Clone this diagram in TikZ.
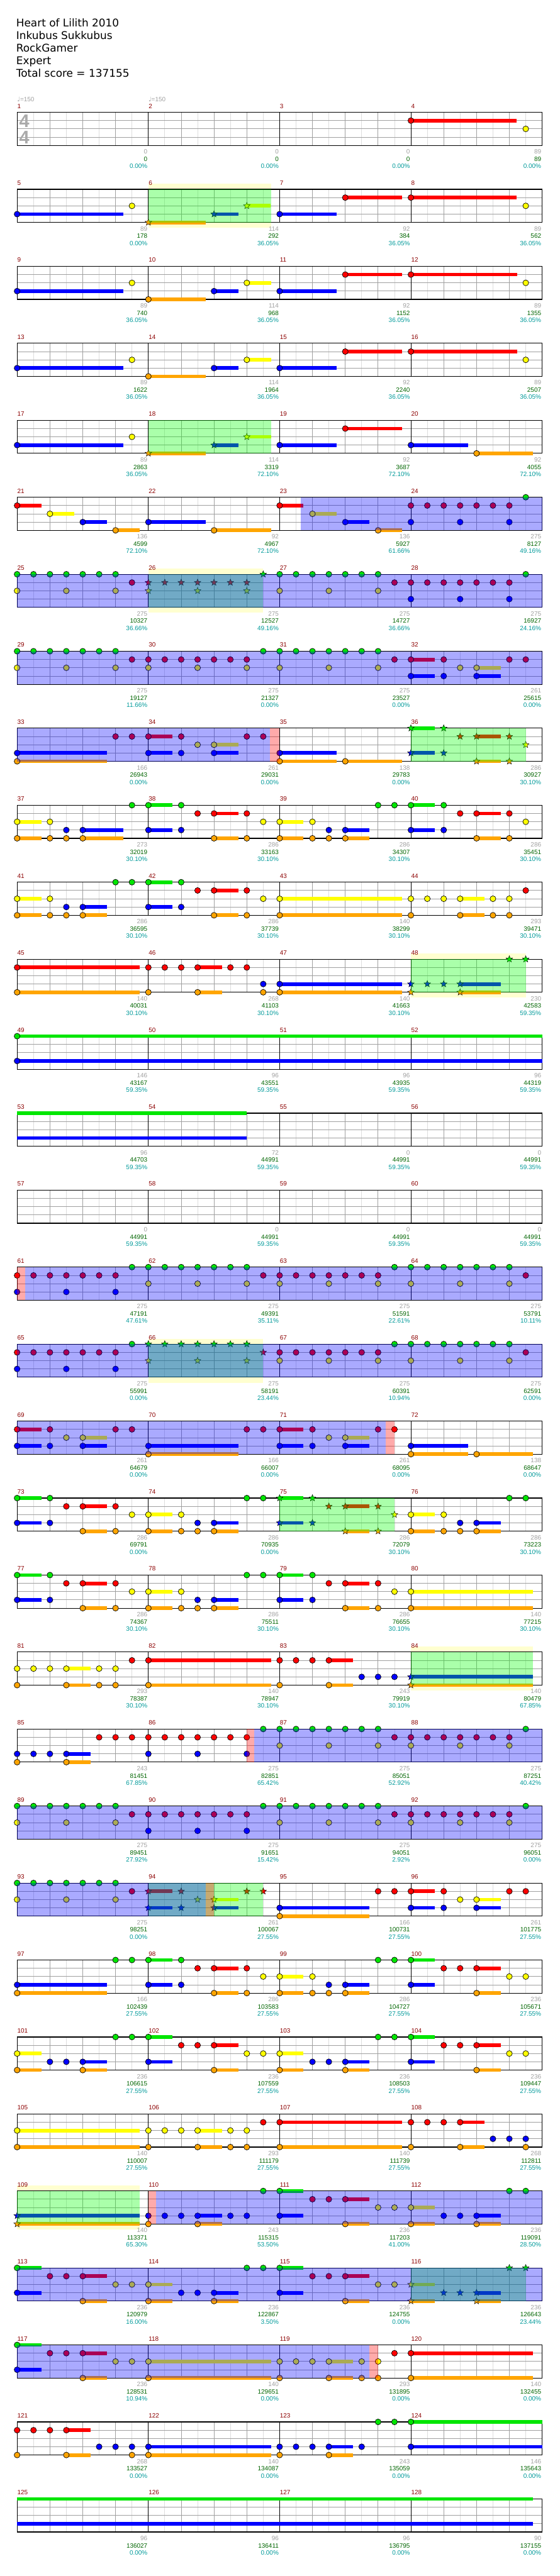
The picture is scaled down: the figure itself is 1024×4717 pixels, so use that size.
\documentclass[tikz,border=0pt]{standalone}
\usepackage{fontspec}
\setmainfont{DejaVu Sans}
\newfontfamily\numfont{Liberation Sans}
\newfontfamily\sigfont{Liberation Sans}
\usetikzlibrary{shapes.geometric}
% 五条轨道的颜色
\definecolor{lane0}{RGB}{0,230,0}
\definecolor{lane1}{RGB}{255,0,0}
\definecolor{lane2}{RGB}{255,255,0}
\definecolor{lane3}{RGB}{0,0,255}
\definecolor{lane4}{RGB}{255,165,0}
\definecolor{gridlight}{RGB}{221,221,221}
\definecolor{gridmid}{RGB}{160,160,160}
\definecolor{barnum}{RGB}{139,0,0}
\definecolor{basecol}{RGB}{160,160,160}
\definecolor{totalcol}{RGB}{0,100,0}
\definecolor{pctcol}{RGB}{0,153,153}
\definecolor{bandcol}{RGB}{255,255,208}
\definecolor{sigcol}{RGB}{170,170,170}
% 坐标: 行, 八分音符位置, 轨道
\newcommand{\xe}[1]{31.3+30.03*(#1)}
\newcommand{\yl}[2]{205.7+140.97*(#1)+15.15*(#2)}
\tikzset{
  headline/.style={anchor=base west, inner sep=0, font=\fontsize{14.6}{17}\selectfont},
  barno/.style={anchor=base west, inner sep=0, text=barnum, font=\numfont\fontsize{8.6}{10}\selectfont},
  scoretext/.style={anchor=base east, inner sep=0, font=\numfont\fontsize{8.6}{10}\selectfont},
  eighthline/.style={draw=gridlight, line width=0.75pt},
  beatline/.style={draw=gridmid, line width=0.75pt},
  barline/.style={draw=black, line width=0.75pt},
  staffframe/.style={draw=black, line width=1pt},
  notehead/.style={draw=black, line width=0.6pt},
  sustain/.style={line width=5pt},
  spstar/.style={star, star points=5, star point ratio=2.3, draw=black, line width=0.4pt, inner sep=0, minimum size=9.5pt},
  spzone/.style={fill=green, fill opacity=0.333},
  odzone/.style={fill=blue, fill opacity=0.333},
  actzone/.style={fill=red, fill opacity=0.333},
  spband/.style={fill=bandcol}
}
% 音符, 星音符, 延音
\newcommand{\nt}[3]{\foreach \e in {#3}{\draw[notehead, fill=lane#2] ({\xe{\e}},{\yl{#1}{#2}}) circle[radius=4pt];}}
\newcommand{\spn}[3]{\foreach \e in {#3}{\node[spstar, fill=lane#2] at ({\xe{\e}},{\yl{#1}{#2}}) {};}}
\newcommand{\sus}[4]{\draw[sustain, draw=lane#2] ({\xe{#3}},{\yl{#1}{#2}}) -- ({\xe{#4}},{\yl{#1}{#2}});}
% 区域: 行, 起, 止
\newcommand{\band}[3]{\fill[spband] ({\xe{#2}},{\yl{#1}{0}-10}) rectangle ({\xe{#3}},{\yl{#1}{4}+10});}
\newcommand{\spz}[3]{\fill[spzone] ({\xe{#2}},{\yl{#1}{0}}) rectangle ({\xe{#3}},{\yl{#1}{4}});}
\newcommand{\odz}[3]{\fill[odzone] ({\xe{#2}},{\yl{#1}{0}}) rectangle ({\xe{#3}},{\yl{#1}{4}});}
\newcommand{\actz}[3]{\fill[actzone] ({\xe{#2}},{\yl{#1}{0}}) rectangle ({\xe{#3}},{\yl{#1}{4}});}

\begin{document}
\begin{tikzpicture}[x=0.75pt, y=-0.75pt]
	\useasboundingbox (0,0) rectangle (1024,4717);
	
	% 标题
	\foreach \t [count=\i] in {Heart of Lilith 2010, Inkubus Sukkubus, RockGamer, Expert, Total score = 137155}
		\node[headline] at (29.5,26+23*\i) {\t};
	
	% 星力提示带
	\band{1}{8}{15.47} \band{6}{8}{15} \band{11}{24}{31} \band{16}{8}{15} \band{20}{24}{31.45} \band{27}{0}{7.48}
	
	% 谱表
	\foreach \rw in {0,...,31} {
		\pgfmathsetmacro\yt{205.7+140.97*\rw}
		\fill[white] (31.3,\yt) rectangle (992.3,\yt+60.6);
		\foreach \e in {1,3,...,31} \draw[eighthline] ({\xe{\e}},\yt) -- ++(0,60.6);
		\foreach \e in {2,4,6,10,12,14,18,20,22,26,28,30} \draw[beatline] ({\xe{\e}},\yt) -- ++(0,60.6);
		\foreach \l in {1,2,3} \draw[beatline] (31.3,\yt+15.15*\l) -- (992.3,\yt+15.15*\l);
		\foreach \e in {8,16,24} \draw[barline] ({\xe{\e}},\yt) -- ++(0,60.6);
		\draw[staffframe] (31.3,\yt) rectangle (992.3,\yt+60.6);
		\foreach \cl in {0,...,3} {
			\pgfmathtruncatemacro\mn{4*\rw+\cl+1}
			\node[barno] at ({\xe{8*\cl}+0.3},\yt-7.5) {\mn};
		}
	}
	
	% 拍号与速度
	\node[anchor=base, inner sep=0, text=sigcol, font=\sigfont\bfseries\fontsize{25}{25}\selectfont] at (44.5,233) {4};
	\node[anchor=base, inner sep=0, text=sigcol, font=\sigfont\bfseries\fontsize{25}{25}\selectfont] at (44.5,263) {4};
	\foreach \e in {0,8}
		\node[anchor=base west, inner sep=0, text=basecol, font=\numfont\fontsize{8.6}{10}\selectfont] at ({\xe{\e}},185.7) {{\fontspec{DejaVu Sans}♩}=150};
	
	% 第1-8小节
	\sus{0}{1}{24}{30.46} \nt{0}{1}{24} \nt{0}{2}{31}
	\sus{1}{3}{0}{6.48} \nt{1}{3}{0} \nt{1}{2}{7}
	\sus{1}{4}{8}{11.48} \spn{1}{4}{8}
	\sus{1}{3}{12}{13.48} \spn{1}{3}{12}
	\sus{1}{2}{14}{15.46} \spn{1}{2}{14}
	\sus{1}{3}{16}{19.47} \nt{1}{3}{16}
	\sus{1}{1}{20}{23.46} \nt{1}{1}{20}
	\sus{1}{1}{24}{30.46} \nt{1}{1}{24} \nt{1}{2}{31}
	
	% 第9-16小节
	\foreach \rr in {2,3} {
		\sus{\rr}{3}{0}{6.48} \nt{\rr}{3}{0} \nt{\rr}{2}{7}
		\sus{\rr}{4}{8}{11.49} \nt{\rr}{4}{8}
		\sus{\rr}{3}{12}{13.49} \nt{\rr}{3}{12}
		\sus{\rr}{2}{14}{15.47} \nt{\rr}{2}{14}
		\sus{\rr}{3}{16}{19.47} \nt{\rr}{3}{16}
		\sus{\rr}{1}{20}{23.47} \nt{\rr}{1}{20}
		\sus{\rr}{1}{24}{30.48} \nt{\rr}{1}{24} \nt{\rr}{2}{31}
	}
	
	% 第17-20小节
	\sus{4}{3}{0}{6.48} \nt{4}{3}{0} \nt{4}{2}{7}
	\sus{4}{4}{8}{11.49} \spn{4}{4}{8}
	\sus{4}{3}{12}{13.49} \spn{4}{3}{12}
	\sus{4}{2}{14}{15.47} \spn{4}{2}{14}
	\sus{4}{3}{16}{19.47} \nt{4}{3}{16}
	\sus{4}{1}{20}{23.47} \nt{4}{1}{20}
	\sus{4}{3}{24}{27.47} \nt{4}{3}{24}
	\sus{4}{4}{28}{31.45} \nt{4}{4}{28}
	
	% 第21-24小节
	\sus{5}{1}{0}{1.48} \nt{5}{1}{0}
	\sus{5}{2}{2}{3.48} \nt{5}{2}{2}
	\sus{5}{3}{4}{5.48} \nt{5}{3}{4}
	\sus{5}{4}{6}{7.48} \nt{5}{4}{6}
	\sus{5}{3}{8}{11.49} \nt{5}{3}{8}
	\sus{5}{4}{12}{15.47} \nt{5}{4}{12}
	\sus{5}{1}{16}{17.45} \nt{5}{1}{16}
	\sus{5}{2}{18}{19.47} \nt{5}{2}{18}
	\sus{5}{3}{20}{21.47} \nt{5}{3}{20}
	\sus{5}{4}{22}{23.47} \nt{5}{4}{22}
	\nt{5}{1}{24,...,30} \nt{5}{3}{24,27,30} \nt{5}{0}{31}
	
	% 第25-28小节
	\nt{6}{0}{0,...,6} \nt{6}{1}{7} \nt{6}{2}{0,3,6}
	\spn{6}{1}{8,...,14} \spn{6}{2}{8,11,14} \spn{6}{0}{15}
	\nt{6}{0}{16,...,22} \nt{6}{2}{16,19,22}
	\nt{6}{1}{23,...,30} \nt{6}{3}{24,27,30} \nt{6}{0}{31}
	
	% 第29-32小节
	\nt{7}{0}{0,...,6} \nt{7}{2}{0,3,6} \nt{7}{1}{7}
	\nt{7}{1}{8,...,14} \nt{7}{2}{8,11,14} \nt{7}{0}{15}
	\nt{7}{0}{16,...,22} \nt{7}{2}{16,19,22}
	\sus{7}{1}{24}{25.47} \sus{7}{3}{24}{25.47} \sus{7}{2}{28}{29.48} \sus{7}{3}{28}{29.48}
	\nt{7}{1}{23,24,26,30,31} \nt{7}{2}{27,28} \nt{7}{3}{24,26,28}
	
	% 第33-36小节
	\sus{8}{3}{0}{5.48} \sus{8}{4}{0}{5.48} \nt{8}{3}{0} \nt{8}{4}{0} \nt{8}{1}{6,7}
	\sus{8}{1}{8}{9.48} \sus{8}{3}{8}{9.48} \sus{8}{2}{12}{13.49} \sus{8}{3}{12}{13.49}
	\nt{8}{1}{8,10,14,15} \nt{8}{2}{11,12} \nt{8}{3}{8,10,12}
	\sus{8}{3}{16}{19.47} \sus{8}{4}{16}{19.47} \sus{8}{4}{20}{23.47} \nt{8}{3}{16} \nt{8}{4}{16,20}
	\sus{8}{0}{24}{25.47} \sus{8}{3}{24}{25.47} \sus{8}{1}{28}{29.48} \sus{8}{4}{28}{29.48}
	\spn{8}{0}{24,26} \spn{8}{3}{24,26} \spn{8}{1}{27,28,30} \spn{8}{4}{28,30} \spn{8}{2}{31}
	
	% 第37-40小节
	\sus{9}{2}{0}{1.48} \sus{9}{4}{0}{1.48} \sus{9}{3}{4}{6.48} \sus{9}{4}{4}{6.48}
	\nt{9}{2}{0,2} \nt{9}{4}{0,2,3,4} \nt{9}{3}{3,4} \nt{9}{0}{7}
	\sus{9}{0}{8}{9.48} \sus{9}{3}{8}{9.48} \sus{9}{1}{12}{13.49} \sus{9}{4}{12}{13.49}
	\nt{9}{0}{8,10} \nt{9}{3}{8,10} \nt{9}{1}{11,12,14} \nt{9}{4}{12,14} \nt{9}{2}{15}
	\sus{9}{2}{16}{17.45} \sus{9}{4}{16}{17.45} \sus{9}{3}{20}{21.47} \sus{9}{4}{20}{21.47}
	\nt{9}{2}{16,18} \nt{9}{4}{16,18,19,20} \nt{9}{3}{19,20} \nt{9}{0}{22,23}
	\sus{9}{0}{24}{25.47} \sus{9}{3}{24}{25.47} \sus{9}{1}{28}{29.48} \sus{9}{4}{28}{29.48}
	\nt{9}{0}{24,26} \nt{9}{3}{24,26} \nt{9}{1}{27,28,30} \nt{9}{4}{28,30} \nt{9}{2}{31}
	
	% 第41-44小节
	\sus{10}{2}{0}{1.48} \sus{10}{4}{0}{1.48} \sus{10}{3}{4}{5.48} \sus{10}{4}{4}{5.48}
	\nt{10}{2}{0,2} \nt{10}{4}{0,2,3,4} \nt{10}{3}{3,4} \nt{10}{0}{6,7}
	\sus{10}{0}{8}{9.48} \sus{10}{3}{8}{9.48} \sus{10}{1}{12}{13.49} \sus{10}{4}{12}{13.49}
	\nt{10}{0}{8,10} \nt{10}{3}{8,10} \nt{10}{1}{11,12,14} \nt{10}{4}{12,14} \nt{10}{2}{15}
	\sus{10}{2}{16}{23.47} \sus{10}{4}{16}{23.47} \nt{10}{2}{16} \nt{10}{4}{16}
	\sus{10}{2}{27}{28.48} \sus{10}{4}{27}{28.48}
	\nt{10}{2}{24,25,26,27,29,30} \nt{10}{4}{24,27,29,30} \nt{10}{1}{31}
	
	% 第45-48小节
	\sus{11}{1}{0}{7.48} \sus{11}{4}{0}{7.48} \nt{11}{1}{0} \nt{11}{4}{0}
	\sus{11}{1}{11}{12.49} \sus{11}{4}{11}{12.49}
	\nt{11}{1}{8,9,10,11,13,14} \nt{11}{4}{8,11,15} \nt{11}{3}{15}
	\sus{11}{3}{16}{23.47} \sus{11}{4}{16}{23.47} \nt{11}{3}{16} \nt{11}{4}{16}
	\sus{11}{3}{27}{29.48} \sus{11}{4}{27}{29.48}
	\spn{11}{3}{24,25,26,27} \spn{11}{4}{24,27} \spn{11}{0}{30,31}
	
	% 第49-60小节
	\sus{12}{0}{0}{32} \sus{12}{3}{0}{32} \nt{12}{0}{0} \nt{12}{3}{0}
	\sus{13}{0}{0}{14} \sus{13}{3}{0}{14}
	
	% 第61-64小节
	\nt{15}{1}{0,...,6} \nt{15}{3}{0,3,6} \nt{15}{0}{7}
	\nt{15}{0}{8,...,14} \nt{15}{2}{8,11,14} \nt{15}{1}{15}
	\nt{15}{1}{16,...,22} \nt{15}{2}{16,19,22} \nt{15}{0}{23}
	\nt{15}{0}{24,...,30} \nt{15}{2}{24,27,30} \nt{15}{1}{31}
	
	% 第65-68小节
	\nt{16}{1}{0,...,6} \nt{16}{3}{0,3,6} \nt{16}{0}{7}
	\spn{16}{0}{8,...,14} \spn{16}{2}{8,11,14} \spn{16}{1}{15}
	\nt{16}{1}{16,...,22} \nt{16}{2}{16,19,22} \nt{16}{0}{23}
	\nt{16}{0}{24,...,30} \nt{16}{2}{24,27,30} \nt{16}{1}{31}
	
	% 第69-72小节
	\sus{17}{1}{0}{1.48} \sus{17}{3}{0}{1.48} \sus{17}{2}{4}{5.48} \sus{17}{3}{4}{5.48}
	\nt{17}{1}{0,2,6,7} \nt{17}{3}{0,2,4} \nt{17}{2}{3,4}
	\sus{17}{3}{8}{13.49} \sus{17}{4}{8}{13.49} \nt{17}{3}{8} \nt{17}{4}{8} \nt{17}{1}{14,15}
	\sus{17}{1}{16}{17.45} \sus{17}{3}{16}{17.45} \sus{17}{2}{20}{21.47} \sus{17}{3}{20}{21.47}
	\nt{17}{1}{16,18,22,23} \nt{17}{3}{16,18,20} \nt{17}{2}{19,20}
	\sus{17}{3}{24}{27.47} \sus{17}{4}{24}{27.47} \sus{17}{4}{28}{31.45} \nt{17}{3}{24} \nt{17}{4}{24,28}
	
	% 第73-80小节
	\foreach \rr in {18,19} {
		\sus{\rr}{0}{0}{1.48} \sus{\rr}{3}{0}{1.48} \sus{\rr}{1}{4}{5.48} \sus{\rr}{4}{4}{5.48}
		\nt{\rr}{0}{0,2} \nt{\rr}{3}{0,2} \nt{\rr}{1}{3,4,6} \nt{\rr}{4}{4,6} \nt{\rr}{2}{7}
		\sus{\rr}{2}{8}{9.48} \sus{\rr}{4}{8}{9.48} \sus{\rr}{3}{12}{13.49} \sus{\rr}{4}{12}{13.49}
		\nt{\rr}{2}{8,10} \nt{\rr}{4}{8,10,11,12} \nt{\rr}{3}{11,12} \nt{\rr}{0}{14,15}
		\sus{\rr}{0}{16}{17.45} \sus{\rr}{3}{16}{17.45} \sus{\rr}{1}{20}{21.47} \sus{\rr}{4}{20}{21.47}
	}
	\spn{18}{0}{16,18} \spn{18}{3}{16,18} \spn{18}{1}{19,20,22} \spn{18}{4}{20,22} \spn{18}{2}{23}
	\sus{18}{2}{24}{25.47} \sus{18}{4}{24}{25.47} \sus{18}{3}{28}{29.48} \sus{18}{4}{28}{29.48}
	\nt{18}{2}{24,26} \nt{18}{4}{24,26,27,28} \nt{18}{3}{27,28} \nt{18}{0}{30,31}
	\nt{19}{0}{16,18} \nt{19}{3}{16,18} \nt{19}{1}{19,20,22} \nt{19}{4}{20,22} \nt{19}{2}{23}
	\sus{19}{2}{24}{31.45} \sus{19}{4}{24}{31.45} \nt{19}{2}{24} \nt{19}{4}{24}
	
	% 第81-84小节
	\sus{20}{2}{3}{4.48} \sus{20}{4}{3}{4.48} \nt{20}{2}{0,1,2,3,5,6} \nt{20}{4}{0,3,5,6} \nt{20}{1}{7}
	\sus{20}{1}{8}{15.47} \sus{20}{4}{8}{15.47} \nt{20}{1}{8} \nt{20}{4}{8}
	\sus{20}{1}{19}{20.47} \sus{20}{4}{19}{20.47} \nt{20}{1}{16,17,18,19} \nt{20}{4}{16,19} \nt{20}{3}{21,22,23}
	\sus{20}{3}{24}{31.45} \sus{20}{4}{24}{31.45} \spn{20}{3}{24} \spn{20}{4}{24}
	
	% 第85-88小节
	\sus{21}{3}{3}{4.48} \sus{21}{4}{3}{4.48} \nt{21}{3}{0,1,2,3} \nt{21}{4}{0,3} \nt{21}{1}{5,6,7}
	\nt{21}{1}{8,...,14} \nt{21}{3}{8,11,14}
	\nt{21}{0}{15,...,22} \nt{21}{2}{16,19,22}
	\nt{21}{1}{23,...,30} \nt{21}{2}{24,27,30} \nt{21}{0}{31}
	
	% 第89-92小节
	\nt{22}{0}{0,...,6} \nt{22}{2}{0,3,6} \nt{22}{1}{7}
	\nt{22}{1}{8,...,14} \nt{22}{3}{8,11,14} \nt{22}{0}{15}
	\nt{22}{0}{16,...,22} \nt{22}{2}{16,19,22} \nt{22}{1}{23}
	\nt{22}{1}{24,...,30} \nt{22}{2}{24,27,30} \nt{22}{0}{31}
	
	% 第93-96小节
	\nt{23}{0}{0,...,6} \nt{23}{2}{0,3,6} \nt{23}{1}{7}
	\sus{23}{1}{8}{9.48} \sus{23}{3}{8}{9.48} \sus{23}{2}{12}{13.49} \sus{23}{3}{12}{13.49}
	\spn{23}{1}{8,10,14,15} \spn{23}{3}{8,10,12} \spn{23}{2}{11,12}
	\sus{23}{3}{16}{21.47} \sus{23}{4}{16}{21.47} \nt{23}{3}{16} \nt{23}{4}{16}
	\sus{23}{1}{24}{25.47} \sus{23}{3}{24}{25.47} \sus{23}{2}{28}{29.48} \sus{23}{3}{28}{29.48}
	\nt{23}{1}{22,23,24,26,30,31} \nt{23}{2}{27,28} \nt{23}{3}{24,26,28}
	
	% 第97-100小节
	\sus{24}{3}{0}{5.48} \sus{24}{4}{0}{5.48} \nt{24}{3}{0} \nt{24}{4}{0} \nt{24}{0}{6,7}
	\sus{24}{0}{8}{9.48} \sus{24}{3}{8}{9.48} \sus{24}{1}{12}{13.49} \sus{24}{4}{12}{13.49}
	\nt{24}{0}{8,10} \nt{24}{3}{8,10} \nt{24}{1}{11,12,14} \nt{24}{4}{12,14} \nt{24}{2}{15}
	\sus{24}{2}{16}{17.45} \sus{24}{4}{16}{17.45} \sus{24}{3}{20}{21.47} \sus{24}{4}{20}{21.47}
	\nt{24}{2}{16,18} \nt{24}{4}{16,18,19,20} \nt{24}{3}{19,20} \nt{24}{0}{22,23}
	\sus{24}{0}{24}{25.47} \sus{24}{3}{24}{25.47} \sus{24}{1}{28}{29.48} \sus{24}{4}{28}{29.48}
	\nt{24}{0}{24} \nt{24}{3}{24} \nt{24}{1}{26,27,28} \nt{24}{4}{28} \nt{24}{2}{30,31}
	
	% 第101-104小节
	\sus{25}{2}{0}{1.48} \sus{25}{4}{0}{1.48} \sus{25}{3}{4}{5.48} \sus{25}{4}{4}{5.48}
	\nt{25}{2}{0} \nt{25}{4}{0,4} \nt{25}{3}{2,3,4} \nt{25}{0}{6,7}
	\sus{25}{0}{8}{9.48} \sus{25}{3}{8}{9.48} \sus{25}{1}{12}{13.49} \sus{25}{4}{12}{13.49}
	\nt{25}{0}{8} \nt{25}{3}{8} \nt{25}{1}{10,11,12} \nt{25}{4}{12} \nt{25}{2}{14,15}
	\sus{25}{2}{16}{17.45} \sus{25}{4}{16}{17.45} \sus{25}{3}{20}{21.47} \sus{25}{4}{20}{21.47}
	\nt{25}{2}{16} \nt{25}{4}{16,20} \nt{25}{3}{18,19,20} \nt{25}{0}{22,23}
	\sus{25}{0}{24}{25.47} \sus{25}{3}{24}{25.47} \sus{25}{1}{28}{29.48} \sus{25}{4}{28}{29.48}
	\nt{25}{0}{24} \nt{25}{3}{24} \nt{25}{1}{26,27,28} \nt{25}{4}{28} \nt{25}{2}{30,31}
	
	% 第105-108小节
	\sus{26}{2}{0}{7.48} \sus{26}{4}{0}{7.48} \nt{26}{2}{0} \nt{26}{4}{0}
	\sus{26}{2}{11}{12.49} \sus{26}{4}{11}{12.49}
	\nt{26}{2}{8,9,10,11,13,14} \nt{26}{4}{8,11,13,14} \nt{26}{1}{15}
	\sus{26}{1}{16}{23.47} \sus{26}{4}{16}{23.47} \nt{26}{1}{16} \nt{26}{4}{16}
	\sus{26}{1}{27}{28.48} \sus{26}{4}{27}{28.48}
	\nt{26}{1}{24,25,26,27} \nt{26}{4}{24,27,31} \nt{26}{3}{29,30,31}
	
	% 第109-112小节
	\sus{27}{3}{0}{7.48} \sus{27}{4}{0}{7.48} \spn{27}{3}{0} \spn{27}{4}{0}
	\sus{27}{3}{11}{12.49} \sus{27}{4}{11}{12.49}
	\nt{27}{3}{8,9,10,11,13,14} \nt{27}{4}{8,11} \nt{27}{0}{15}
	\sus{27}{0}{16}{17.45} \sus{27}{3}{16}{17.45} \sus{27}{1}{20}{21.47} \sus{27}{4}{20}{21.47}
	\nt{27}{0}{16} \nt{27}{3}{16} \nt{27}{1}{18,19,20} \nt{27}{4}{20} \nt{27}{2}{22,23}
	\sus{27}{2}{24}{25.47} \sus{27}{4}{24}{25.47} \sus{27}{3}{28}{29.48} \sus{27}{4}{28}{29.48}
	\nt{27}{2}{24} \nt{27}{4}{24,28} \nt{27}{3}{26,27,28} \nt{27}{0}{30,31}
	
	% 第113-120小节
	\foreach \rr in {28,29} {
		\sus{\rr}{0}{0}{1.48} \sus{\rr}{3}{0}{1.48} \sus{\rr}{1}{4}{5.48} \sus{\rr}{4}{4}{5.48}
		\nt{\rr}{0}{0} \nt{\rr}{3}{0} \nt{\rr}{1}{2,3,4} \nt{\rr}{4}{4} \nt{\rr}{2}{6,7}
	}
	\sus{28}{2}{8}{9.48} \sus{28}{4}{8}{9.48} \sus{28}{3}{12}{13.49} \sus{28}{4}{12}{13.49}
	\nt{28}{2}{8} \nt{28}{4}{8,12} \nt{28}{3}{10,11,12} \nt{28}{0}{14,15}
	\sus{28}{0}{16}{17.45} \sus{28}{3}{16}{17.45} \sus{28}{1}{20}{21.47} \sus{28}{4}{20}{21.47}
	\nt{28}{0}{16} \nt{28}{3}{16} \nt{28}{1}{18,19,20} \nt{28}{4}{20} \nt{28}{2}{22,23}
	\sus{28}{2}{24}{25.47} \sus{28}{4}{24}{25.47} \sus{28}{3}{28}{29.48} \sus{28}{4}{28}{29.48}
	\spn{28}{2}{24} \spn{28}{4}{24,28} \spn{28}{3}{26,27,28} \spn{28}{0}{30,31}
	\sus{29}{2}{8}{15.47} \sus{29}{4}{8}{15.47} \nt{29}{2}{8} \nt{29}{4}{8}
	\sus{29}{2}{19}{20.47} \sus{29}{4}{19}{20.47}
	\nt{29}{2}{16,17,18,19,21,22} \nt{29}{4}{16,19,21,22} \nt{29}{1}{23}
	\sus{29}{1}{24}{31.45} \sus{29}{4}{24}{31.45} \nt{29}{1}{24} \nt{29}{4}{24}
	
	% 第121-128小节
	\sus{30}{1}{3}{4.48} \sus{30}{4}{3}{4.48} \nt{30}{1}{0,1,2,3} \nt{30}{4}{0,3,7} \nt{30}{3}{5,6,7}
	\sus{30}{3}{8}{15.47} \sus{30}{4}{8}{15.47} \nt{30}{3}{8} \nt{30}{4}{8}
	\sus{30}{3}{19}{20.47} \sus{30}{4}{19}{20.47} \nt{30}{3}{16,17,18,19,21} \nt{30}{4}{16,19} \nt{30}{0}{22,23}
	\sus{30}{0}{24}{32} \sus{30}{3}{24}{32} \nt{30}{0}{24} \nt{30}{3}{24}
	\sus{31}{0}{0}{31.45} \sus{31}{3}{0}{31.45}
	
	% 星力区
	\spz{1}{8}{15.47} \spz{4}{8}{15.47} \spz{6}{8}{15} \spz{8}{24}{31} \spz{11}{24}{31} \spz{16}{8}{15}
	\spz{18}{16}{23} \spz{20}{24}{31.45} \spz{23}{8}{15} \spz{27}{0}{7.48} \spz{28}{24}{31}
	% 超速区
	\odz{5}{17.27}{32} \odz{6}{0}{32} \odz{7}{0}{32} \odz{8}{0}{15.42}
	\odz{15}{0.48}{32} \odz{16}{0}{32} \odz{17}{0}{22.45}
	\odz{21}{14.45}{32} \odz{22}{0}{32} \odz{23}{0}{11.49}
	\odz{27}{8.45}{32} \odz{28}{0}{32} \odz{29}{0}{21.47}
	% 激活点
	\actz{8}{15.42}{16} \actz{15}{0}{0.48} \actz{17}{22.45}{23} \actz{21}{14}{14.45}
	\actz{23}{11.49}{12} \actz{27}{8}{8.45} \actz{29}{21.47}{22}
	
	% 每小节得分
	\foreach \m/\bs/\ts/\pc in {1/0/0/0.00, 2/0/0/0.00, 3/0/0/0.00, 4/89/89/0.00,
		5/89/178/0.00, 6/114/292/36.05, 7/92/384/36.05, 8/89/562/36.05,
		9/89/740/36.05, 10/114/968/36.05, 11/92/1152/36.05, 12/89/1355/36.05,
		13/89/1622/36.05, 14/114/1964/36.05, 15/92/2240/36.05, 16/89/2507/36.05,
		17/89/2863/36.05, 18/114/3319/72.10, 19/92/3687/72.10, 20/92/4055/72.10,
		21/136/4599/72.10, 22/92/4967/72.10, 23/136/5927/61.66, 24/275/8127/49.16,
		25/275/10327/36.66, 26/275/12527/49.16, 27/275/14727/36.66, 28/275/16927/24.16,
		29/275/19127/11.66, 30/275/21327/0.00, 31/275/23527/0.00, 32/261/25615/0.00,
		33/166/26943/0.00, 34/261/29031/0.00, 35/138/29783/0.00, 36/286/30927/30.10,
		37/273/32019/30.10, 38/286/33163/30.10, 39/286/34307/30.10, 40/286/35451/30.10,
		41/286/36595/30.10, 42/286/37739/30.10, 43/140/38299/30.10, 44/293/39471/30.10,
		45/140/40031/30.10, 46/268/41103/30.10, 47/140/41663/30.10, 48/230/42583/59.35,
		49/146/43167/59.35, 50/96/43551/59.35, 51/96/43935/59.35, 52/96/44319/59.35,
		53/96/44703/59.35, 54/72/44991/59.35, 55/0/44991/59.35, 56/0/44991/59.35,
		57/0/44991/59.35, 58/0/44991/59.35, 59/0/44991/59.35, 60/0/44991/59.35,
		61/275/47191/47.61, 62/275/49391/35.11, 63/275/51591/22.61, 64/275/53791/10.11,
		65/275/55991/0.00, 66/275/58191/23.44, 67/275/60391/10.94, 68/275/62591/0.00,
		69/261/64679/0.00, 70/166/66007/0.00, 71/261/68095/0.00, 72/138/68647/0.00,
		73/286/69791/0.00, 74/286/70935/0.00, 75/286/72079/30.10, 76/286/73223/30.10,
		77/286/74367/30.10, 78/286/75511/30.10, 79/286/76655/30.10, 80/140/77215/30.10,
		81/293/78387/30.10, 82/140/78947/30.10, 83/243/79919/30.10, 84/140/80479/67.85,
		85/243/81451/67.85, 86/275/82851/65.42, 87/275/85051/52.92, 88/275/87251/40.42,
		89/275/89451/27.92, 90/275/91651/15.42, 91/275/94051/2.92, 92/275/96051/0.00,
		93/275/98251/0.00, 94/261/100067/27.55, 95/166/100731/27.55, 96/261/101775/27.55,
		97/166/102439/27.55, 98/286/103583/27.55, 99/286/104727/27.55, 100/236/105671/27.55,
		101/236/106615/27.55, 102/236/107559/27.55, 103/236/108503/27.55, 104/236/109447/27.55,
		105/140/110007/27.55, 106/293/111179/27.55, 107/140/111739/27.55, 108/268/112811/27.55,
		109/140/113371/65.30, 110/243/115315/53.50, 111/236/117203/41.00, 112/236/119091/28.50,
		113/236/120979/16.00, 114/236/122867/3.50, 115/236/124755/0.00, 116/236/126643/23.44,
		117/236/128531/10.94, 118/140/129651/0.00, 119/293/131895/0.00, 120/140/132455/0.00,
		121/268/133527/0.00, 122/140/134087/0.00, 123/243/135059/0.00, 124/146/135643/0.00,
		125/96/136027/0.00, 126/96/136411/0.00, 127/96/136795/0.00, 128/90/137155/0.00} {
		\pgfmathtruncatemacro\rw{(\m-1)/4}
		\pgfmathtruncatemacro\cl{\m-1-4*\rw}
		\pgfmathsetmacro\xr{31.3+240.24*(\cl+1)-1.5}
		\pgfmathsetmacro\yb{266.3+140.97*\rw}
		\node[scoretext, text=basecol] at (\xr,\yb+15.5) {\bs};
		\node[scoretext, text=totalcol] at (\xr,\yb+29) {\ts};
		\node[scoretext, text=pctcol] at (\xr,\yb+42) {\pc\%};
	}
	
\end{tikzpicture}
\end{document}
